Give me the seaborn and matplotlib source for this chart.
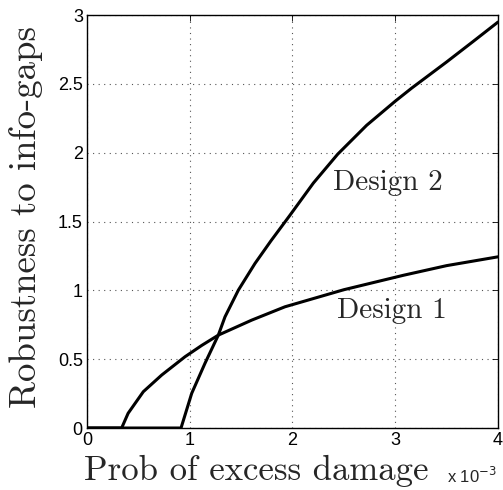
import numpy as np
import pandas as pd
import seaborn as sns
from matplotlib import pyplot as plt

# probability of excess damage, in units of 1e-3
prob_d1 = [0.0, 0.337, 0.40, 0.548, 0.727, 0.954, 1.116, 1.278, 1.603, 1.927,
           2.5, 3.08, 3.5, 4.0]
rob_d1 = [0.0, 0.0, 0.107, 0.264, 0.385, 0.518, 0.60, 0.675, 0.784, 0.881,
          1.005, 1.11, 1.18, 1.244]

prob_d2 = [0.0, 0.915, 1.019, 1.148, 1.278, 1.343, 1.473, 1.635, 1.79, 1.976,
           2.203, 2.44, 2.722, 3.0, 3.16, 3.5, 3.76, 4.0]
rob_d2 = [0.0, 0.0, 0.252, 0.470, 0.675, 0.808, 1.002, 1.196, 1.36, 1.547,
          1.78, 1.99, 2.2, 2.375, 2.47, 2.66, 2.81, 2.95]

x_ticks = [0, 1, 2, 3, 4]
y_ticks = [0, 0.5, 1, 1.5, 2, 2.5, 3]
y_ticklabels = ["0", "0.5", "1", "1.5", "2", "2.5", "3"]

df = pd.concat([
    pd.DataFrame({"prob": prob_d1, "rob": rob_d1, "design": "Design 1"}),
    pd.DataFrame({"prob": prob_d2, "rob": rob_d2, "design": "Design 2"}),
])

sns.set_style("white")
plt.rcParams["font.family"] = ["Liberation Sans", "DejaVu Sans"]
plt.rcParams["axes.formatter.use_mathtext"] = True

fig = plt.figure(figsize=(5.03, 4.90), dpi=100)
ax = fig.add_axes([0.173, 0.1265, 0.817, 0.8425])

sns.lineplot(data=df, x="prob", y="rob", hue="design", palette=["black", "black"],
             sort=False, linewidth=2.2, legend=False, ax=ax)

ax.set_xlim(0, 4)
ax.set_ylim(0, 3)
ax.set_xticks(x_ticks)
ax.set_xticklabels([str(t) for t in x_ticks])
ax.set_yticks(y_ticks)
ax.set_yticklabels(y_ticklabels)

ax.grid(True, color="#555555", linestyle=(0, (1, 4)), linewidth=0.8)
ax.tick_params(direction="in", length=4, width=0.6, labelsize=13, top=True, right=True,
               colors="black", pad=3)
for sp in ax.spines.values():
    sp.set_color("black")
    sp.set_linewidth(1.0)

ax.set_xlabel("Prob of excess damage", family="cmr10", fontsize=25)
ax.xaxis.set_label_coords(0.412, -0.065)
ax.set_ylabel("Robustness to info-gaps", family="cmr10", fontsize=26.5)
ax.yaxis.set_label_coords(-0.107, 0.51)
ax.text(0.877, -0.133, r"x 10$^{-3}$", transform=ax.transAxes, fontsize=12,
        va="baseline")

ax.text(2.39, 1.73, "Design 2", family="cmr10", fontsize=21, va="baseline")
ax.text(2.43, 0.80, "Design 1", family="cmr10", fontsize=21, va="baseline")

fig.savefig("out.png", dpi=100)
